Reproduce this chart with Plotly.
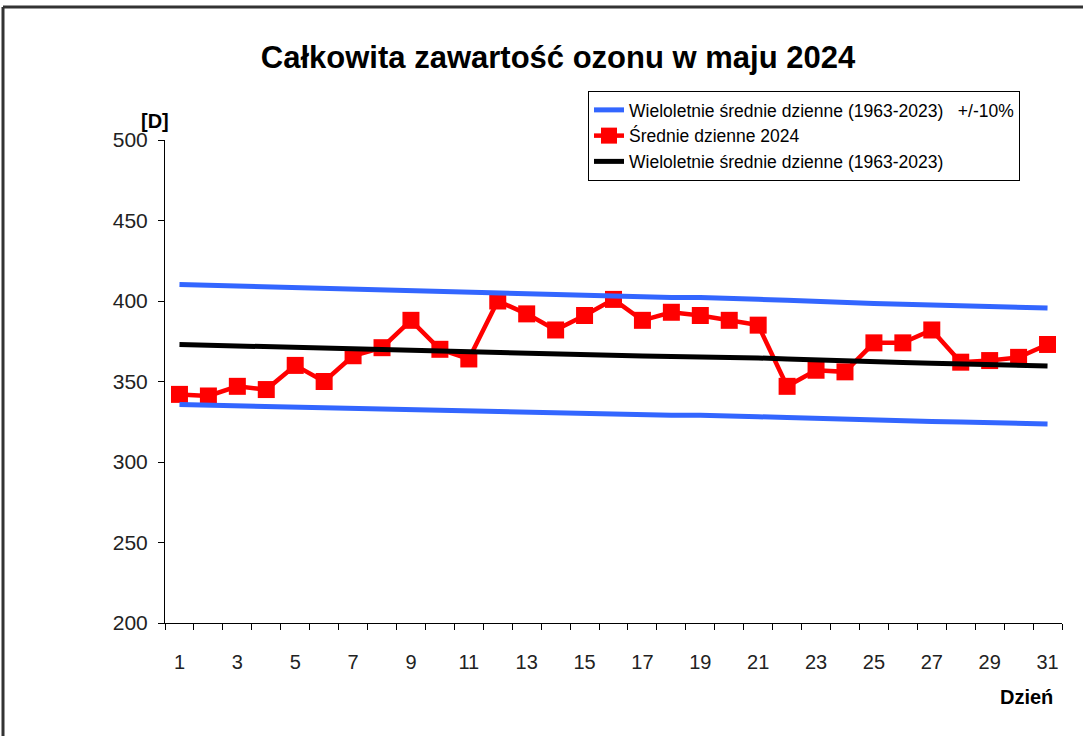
import plotly.graph_objects as go

days = list(range(1, 32))

daily_2024 = [342, 341, 347, 345, 360, 350, 366, 371, 388, 370, 364, 400, 392, 382, 391,
              401, 388, 393, 391, 388, 385, 347, 357, 356, 374, 374, 382, 362, 363, 365, 373]

longterm_mean = [373.0, 372.5, 372.0, 371.6, 371.0, 370.5, 370.0, 369.6, 369.2, 368.8, 368.4,
                 368.0, 367.5, 367.0, 366.5, 366.0, 365.8, 365.6, 365.5, 365.4, 364.6, 364.0,
                 363.3, 362.7, 362.3, 361.8, 361.3, 360.9, 360.5, 360.0, 359.6]

upper_10 = [410.3, 409.8, 409.2, 408.8, 408.1, 407.6, 407.0, 406.6, 406.1, 405.7, 405.2,
            404.8, 404.3, 403.7, 403.2, 402.6, 402.4, 402.2, 402.1, 401.9, 401.1, 400.4,
            399.6, 399.0, 398.5, 398.0, 397.4, 397.0, 396.6, 396.0, 395.6]

lower_10 = [335.7, 335.3, 334.8, 334.4, 333.9, 333.5, 333.0, 332.6, 332.3, 331.9, 331.6,
            331.2, 330.8, 330.3, 329.9, 329.4, 329.2, 329.0, 329.0, 328.9, 328.1, 327.6,
            327.0, 326.4, 326.1, 325.6, 325.2, 324.8, 324.5, 324.0, 323.6]

x_tick_labels = [str(d) for d in range(1, 32, 2)]
y_ticks = [200, 250, 300, 350, 400, 450, 500]

FONT = "Liberation Sans, Arial, sans-serif"
BLUE = "#3366FF"

FW, FH = 1083, 736

fig = go.Figure()

fig.add_trace(go.Scatter(
    x=days, y=daily_2024, mode="lines+markers", name="Średnie dzienne 2024",
    line=dict(color="#FF0000", width=4.5),
    marker=dict(symbol="square", size=17, color="#FF0000"),
    legendrank=2,
))
fig.add_trace(go.Scatter(
    x=days, y=longterm_mean, mode="lines", name="Wieloletnie średnie dzienne (1963-2023)",
    line=dict(color="#000000", width=5), legendrank=3,
))
fig.add_trace(go.Scatter(
    x=days, y=upper_10, mode="lines",
    name="Wieloletnie średnie dzienne (1963-2023)   +/-10%",
    line=dict(color=BLUE, width=5), legendgroup="pm", legendrank=1,
))
fig.add_trace(go.Scatter(
    x=days, y=lower_10, mode="lines", showlegend=False,
    line=dict(color=BLUE, width=5), legendgroup="pm", legendrank=1,
))

# target plot-area edges in page pixels
PL, PR, PT, PB = 165, 1062, 140, 623
L, T, R, B = PL, PT, FW - PR, FH - PB
PW = PR - PL
PH = PB - PT

def px(xp):
    return (xp - PL) / PW

def py(yp):
    return (PB - yp) / PH

fig.update_layout(
    width=FW, height=FH,
    margin=dict(l=L, r=R, t=T, b=B),
    paper_bgcolor="white", plot_bgcolor="white",
    font=dict(family=FONT, color="#000"),
    title=dict(text="<b>Całkowita zawartość ozonu w maju 2024</b>",
               x=558 / FW, xanchor="center", y=1 - 57 / FH, yanchor="middle",
               font=dict(size=31, family=FONT, color="#000")),
    showlegend=True,
    legend=dict(x=px(588), y=py(91), xanchor="left", yanchor="top",
                bordercolor="#000", borderwidth=1, bgcolor="white",
                font=dict(size=17.5, family=FONT, color="#000"),
                traceorder="normal", itemwidth=30),
    xaxis=dict(range=[0.5, 31.5], showgrid=False, zeroline=False,
               showline=True, linecolor="#000", linewidth=1,
               tickmode="array", tickvals=list(range(1, 32, 2)), ticktext=x_tick_labels,
               ticks="", ticklabelstandoff=21,
               tickfont=dict(size=20, family=FONT, color="#222"),
               minor=dict(tick0=0.5, dtick=1, ticks="outside", ticklen=6,
                          tickcolor="#000", tickwidth=1, showgrid=False)),
    yaxis=dict(range=[200, 500], showgrid=False, zeroline=False,
               showline=True, linecolor="#000", linewidth=1,
               tickmode="array", tickvals=y_ticks, ticks="outside", ticklen=6,
               tickcolor="#000", ticklabelstandoff=6,
               tickfont=dict(size=21, family=FONT, color="#222")),
    annotations=[
        dict(text="<b>[D]</b>", x=px(155), y=py(121), xref="paper", yref="paper",
             showarrow=False, xanchor="center", yanchor="middle",
             font=dict(size=20, family=FONT, color="#000")),
        dict(text="<b>Dzień</b>", x=px(1055), y=py(697), xref="paper", yref="paper",
             showarrow=False, xanchor="right", yanchor="middle",
             font=dict(size=20, family=FONT, color="#000")),
    ],
    shapes=[
        dict(type="line", xref="paper", yref="paper", x0=px(3), x1=px(1095),
             y0=py(7), y1=py(7), line=dict(color="#333", width=3)),
        dict(type="line", xref="paper", yref="paper", x0=px(3), x1=px(3),
             y0=py(7), y1=py(745), line=dict(color="#333", width=3)),
    ],
)

fig.write_html("out.html",
               config={"displayModeBar": False},
               post_script="document.body.style.margin='0px';document.body.style.overflow='hidden';")
